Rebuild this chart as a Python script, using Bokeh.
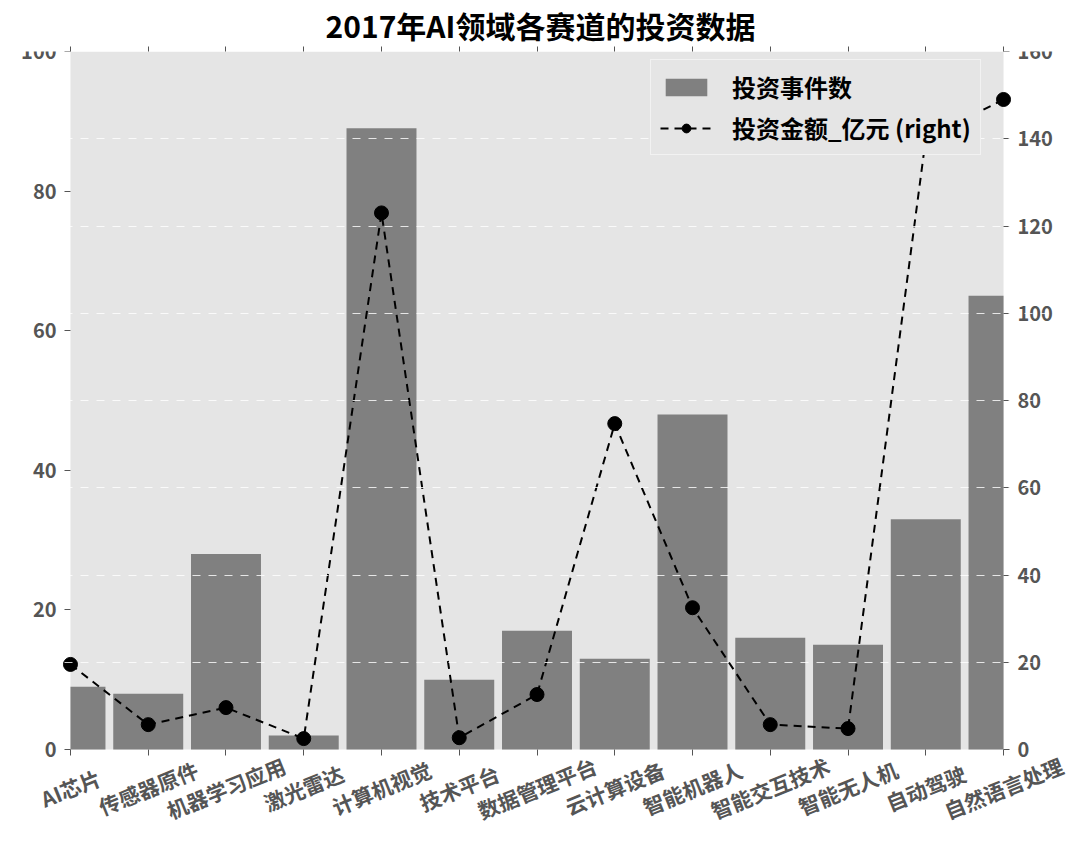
import math
from bokeh.plotting import figure
from bokeh.models import (Range1d, LinearAxis, FixedTicker, Grid, Label, Legend, LegendItem,
                          ColumnDataSource, BoxAnnotation)
from bokeh.embed import file_html
from bokeh.resources import INLINE

categories = ["AI芯片", "传感器原件", "机器学习应用", "激光雷达", "计算机视觉", "技术平台",
              "数据管理平台", "云计算设备", "智能机器人", "智能交互技术", "智能无人机", "自动驾驶", "自然语言处理"]
event_counts = [9, 8, 28, 2, 89, 10, 17, 13, 48, 16, 15, 33, 65]
amounts = [19.5, 5.7, 9.6, 2.5, 123, 2.7, 12.6, 74.7, 32.5, 5.7, 4.8, 140, 149]
left_ticks = [0, 20, 40, 60, 80, 100]
right_ticks = [0, 20, 40, 60, 80, 100, 120, 140, 160]

FONT = "Noto Sans CJK SC"
TICK_COLOR = "#555555"

LEFT_MAX, RIGHT_MAX = 100, 160
EXT = 0.1318          # room below zero (fraction of axis span) for the rotated labels
XPAD_L, XPAD_R = 0.9, 0.99   # room left/right of the category span for the axes
N = len(categories)
XMAX = N - 1
BAR_W = 0.9

xs = list(range(N))
lefts = [max(x - BAR_W / 2, 0) for x in xs]
rights = [min(x + BAR_W / 2, XMAX) for x in xs]
src = ColumnDataSource(dict(x=xs, l=lefts, r=rights, cnt=event_counts, amt=amounts))

p = figure(frame_width=1080, frame_height=790, output_backend="svg", toolbar_location=None,
           x_range=Range1d(-XPAD_L, XMAX + XPAD_R),
           y_range=Range1d(-EXT * LEFT_MAX, LEFT_MAX),
           min_border_left=0, min_border_right=0, min_border_bottom=0, min_border_top=8,
           background_fill_color="white", border_fill_color="white", outline_line_color=None)

p.title.text = "2017年AI领域各赛道的投资数据"
p.title.align = "center"
p.title.text_font = FONT
p.title.text_font_size = "30px"
p.title.text_font_style = "bold"
p.title.text_color = "black"
p.title.standoff = 0

p.extra_y_ranges = {"right": Range1d(-EXT * RIGHT_MAX, RIGHT_MAX)}

p.add_layout(BoxAnnotation(left=0, right=XMAX, bottom=0, top=LEFT_MAX,
                           fill_color="#E5E5E5", fill_alpha=1, line_color=None, level="underlay"))

p.xgrid.grid_line_color = None
p.ygrid.grid_line_color = None

for ax in [p.xaxis[0], p.yaxis[0]]:
    ax.axis_line_color = None
    ax.major_tick_line_color = TICK_COLOR
    ax.minor_tick_line_color = None
    ax.major_tick_in = 0
    ax.major_tick_out = 6
    ax.major_label_text_font = FONT
    ax.major_label_text_font_style = "bold"
    ax.major_label_text_font_size = "20px"
    ax.major_label_text_color = TICK_COLOR

p.yaxis[0].ticker = FixedTicker(ticks=left_ticks)
p.yaxis[0].fixed_location = 0
p.yaxis[0].major_label_standoff = 8
p.xaxis[0].ticker = FixedTicker(ticks=xs)
p.xaxis[0].fixed_location = 0
p.xaxis[0].major_label_text_color = None
p.xaxis[0].major_label_text_font_size = "1px"

right_axis = LinearAxis(y_range_name="right", ticker=FixedTicker(ticks=right_ticks),
                        fixed_location=XMAX,
                        axis_line_color=None, major_tick_line_color=TICK_COLOR,
                        minor_tick_line_color=None, major_tick_in=0, major_tick_out=6,
                        major_label_text_font=FONT, major_label_text_font_style="bold",
                        major_label_text_font_size="20px", major_label_text_color=TICK_COLOR,
                        major_label_standoff=8)
p.add_layout(right_axis, "right")

top_axis = LinearAxis(ticker=FixedTicker(ticks=xs), axis_line_color=None,
                      major_tick_line_color=TICK_COLOR, minor_tick_line_color=None,
                      major_tick_in=0, major_tick_out=5, major_label_text_color=None,
                      major_label_text_font_size="1px")
p.add_layout(top_axis, "above")

bars = p.quad(left="l", right="r", bottom=0, top="cnt", source=src,
              fill_color="#808080", line_color=None)

rgrid = Grid(dimension=1, ticker=FixedTicker(ticks=right_ticks[1:]), y_range_name="right",
             grid_line_color="white", grid_line_dash="8 8", grid_line_width=1,
             grid_line_alpha=0.8, level="overlay")
p.add_layout(rgrid)

line = p.line(x="x", y="amt", source=src, y_range_name="right", line_color="black",
              line_dash="8 6", line_width=2)
dots = p.scatter(x="x", y="amt", source=src, y_range_name="right", size=14,
                 fill_color="black", line_color="black")

for i, name in enumerate(categories):
    p.add_layout(Label(x=i, y=-5.5, text=name, angle=math.radians(22),
                       text_align="center", text_baseline="middle", text_font=FONT,
                       text_font_style="bold", text_font_size="21px", text_color=TICK_COLOR))

legend = Legend(items=[LegendItem(label="投资事件数", renderers=[bars]),
                       LegendItem(label="投资金额_亿元 (right)", renderers=[line, dots])],
                location=(650, 686), padding=9, spacing=6,
                background_fill_color="#E5E5E5", background_fill_alpha=1,
                border_line_color="white", border_line_width=1.5,
                label_text_font=FONT, label_text_font_style="bold", label_text_font_size="24px",
                label_text_color="black", glyph_width=52, glyph_height=22, label_standoff=20)
p.add_layout(legend)

open("out.html", "w").write(file_html(p, INLINE))
